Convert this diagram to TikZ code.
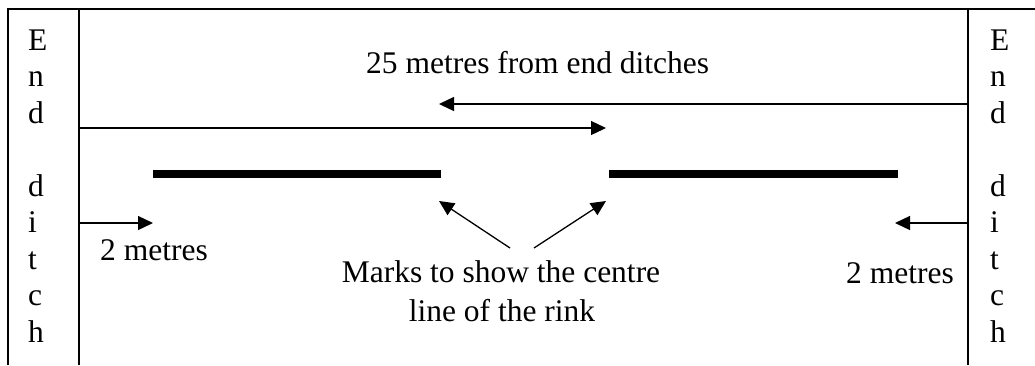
\documentclass[tikz,border=0pt]{standalone}
\usepackage{fontspec}
\setmainfont{Liberation Serif}
\usetikzlibrary{arrows.meta}
\tikzset{
  txt/.style={inner sep=0pt, font=\fontsize{31.5}{38}\selectfont},
  border/.style={line width=2pt},
  arr/.style={line width=1.3pt, -{Triangle[length=15pt,width=14pt]}},
  markbar/.style={line width=8pt},
}
\begin{document}
\begin{tikzpicture}[x=1pt,y=-1pt]
\useasboundingbox (0,0) rectangle (1035,365);
% borders
\draw[border] (8,365) -- (8,9) -- (1035,9);
\draw[border] (79,9) -- (79,365);
\draw[border] (968,9) -- (968,365);
% side letters
\foreach \l [count=\i from 0] in {E,n,d,{},d,i,t,c,h}{
  \node[txt, anchor=base west] (L\i) at (28,50+36.5*\i) {\l};
  \node[txt, anchor=base west] (R\i) at (990,50+36.5*\i) {\l};
}
% coordinates
\coordinate (a1s) at (968,104); \coordinate (a1e) at (439,104);
\coordinate (a2s) at (79,128);  \coordinate (a2e) at (606,128);
\coordinate (s1s) at (79,223);  \coordinate (s1e) at (153,223);
\coordinate (s2s) at (968,223); \coordinate (s2e) at (895,223);
\coordinate (d1s) at (510,248); \coordinate (d1e) at (439,201);
\coordinate (d2s) at (534,248); \coordinate (d2e) at (606,201);
\coordinate (b1s) at (153,174); \coordinate (b1e) at (441,174);
\coordinate (b2s) at (609,174); \coordinate (b2e) at (898,174);
% marks
\draw[markbar] (b1s) -- (b1e);
\draw[markbar] (b2s) -- (b2e);
% arrows
\draw[arr] (a1s) -- (a1e);
\draw[arr] (a2s) -- (a2e);
\draw[arr] (s1s) -- (s1e);
\draw[arr] (s2s) -- (s2e);
\draw[arr] (d1s) -- (d1e);
\draw[arr] (d2s) -- (d2e);
% texts
\node[txt, anchor=base west] (t25) at (366,73) {25 metres from end ditches};
\node[txt, anchor=base west] (t2l) at (100,260) {2 metres};
\node[txt, anchor=base west] (t2r) at (846,283) {2 metres};
\node[txt, anchor=base] (m1) at (501,282) {Marks to show the centre};
\node[txt, anchor=base] (m2) at (502,321) {line of the rink};
\end{tikzpicture}
\end{document}
